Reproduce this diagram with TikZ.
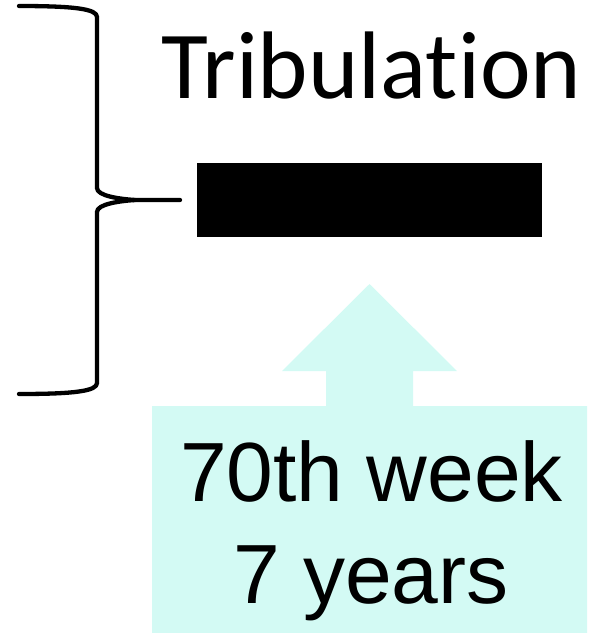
\documentclass[tikz,border=0pt]{standalone}
\usepackage{fontspec}
\setmainfont{Liberation Sans}
\newfontfamily\calib[Ligatures=NoCommon]{Carlito}
\definecolor{callout}{RGB}{211,250,244}
\tikzset{
  bigtext/.style={anchor=base, inner sep=0pt, font=\fontsize{84}{100}\selectfont},
  titletext/.style={anchor=base, inner sep=0pt, font=\calib\fontsize{96}{110}\selectfont},
  bracestyle/.style={line width=4.3pt, line cap=round, line join=round}
}
\begin{document}
\begin{tikzpicture}[x=1pt,y=-1pt]
\useasboundingbox (0,0) rectangle (616,633);
% callout arrow
\fill[callout] (152,633) -- (152,406) -- (326,406) -- (326,371) -- (282,371) -- (369.5,284) -- (457,371) -- (413,371) -- (413,406) -- (587,406) -- (587,633) -- cycle;
% black bar
\node[fill=black, minimum width=345pt, minimum height=74pt, inner sep=0pt, anchor=north west] (bar) at (197,163) {};
% brace
\coordinate (tip) at (180,200);
\draw[bracestyle] (19,6) .. controls (75,6) and (97,9) .. (97,17) -- (97,188)
  .. controls (97,196) and (120,199) .. (135,200) -- (tip);
\draw[bracestyle] (135,200) .. controls (120,201) and (97,204) .. (97,212) -- (97,383)
  .. controls (97,391) and (75,394) .. (19,394);
% texts
\node[titletext] (title) at (371.5,98) {Tribulation};
\node[bigtext] (week) at (371.5,501) {70th week};
\node[bigtext] (years) at (371,603) {7 years};
\end{tikzpicture}
\end{document}
